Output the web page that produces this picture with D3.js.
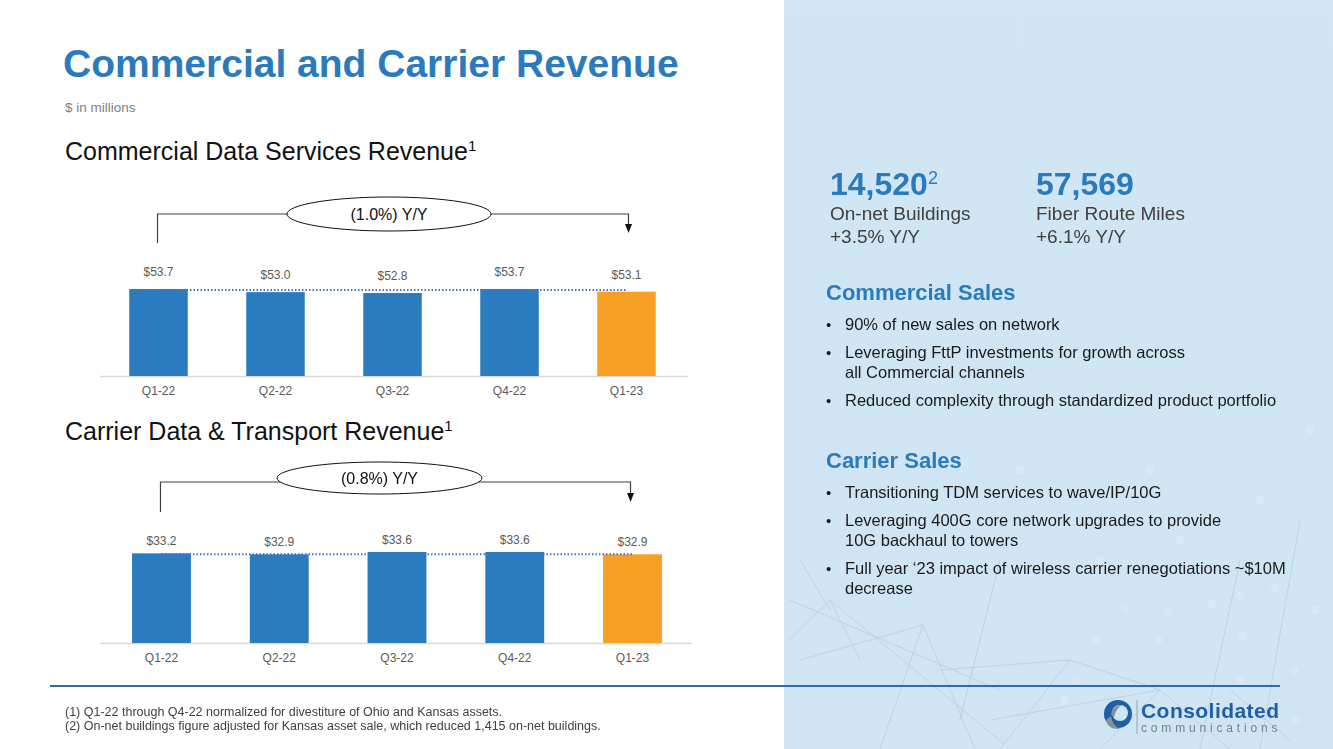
<!DOCTYPE html>
<html>
<head>
<meta charset="utf-8">
<script src="https://cdn.jsdelivr.net/npm/d3@7/dist/d3.min.js"></script>
<style>
  html, body { margin: 0; padding: 0; background: #fff; }
  svg { display: block; font-family: "Liberation Sans", Arial, sans-serif; }
</style>
</head>
<body>
<svg id="chart" width="1333" height="749"></svg>
<script>
// ---------- DATA ----------
const categories = ["Q1-22", "Q2-22", "Q3-22", "Q4-22", "Q1-23"];
const commercialValues = [53.7, 53.0, 52.8, 53.7, 53.1];
const carrierValues = [33.2, 32.9, 33.6, 33.6, 32.9];
const commercialChange = "(1.0%) Y/Y";
const carrierChange = "(0.8%) Y/Y";
const commercialAxisMin = 34.2;
const carrierAxisMin = 6;

// ---------- SETUP ----------
const svg = d3.select("#chart");
const W = 1333, H = 749;
const BLUE = "#2B7BBF", ORANGE = "#F7A025", GRAY = "#595959";

// right panel background
const defs = svg.append("defs");
const grad = defs.append("linearGradient").attr("id", "bg").attr("x1", 0).attr("y1", 0).attr("x2", 0).attr("y2", 1);
grad.append("stop").attr("offset", "0%").attr("stop-color", "#D0E6F4");
grad.append("stop").attr("offset", "100%").attr("stop-color", "#CFE5F3");
svg.append("rect").attr("x", 784).attr("y", 0).attr("width", W - 784).attr("height", H).attr("fill", "url(#bg)");

// faint network decoration
const deco = svg.append("g").attr("opacity", 0.45);
const decoLines = [
  [[790, 640], [830, 600]], [[790, 600], [1000, 690]], [[830, 600], [860, 660]], [[800, 660], [923, 625]],
  [[923, 625], [975, 749]], [[923, 625], [880, 749]], [[940, 670], [1070, 660]], [[1070, 660], [1000, 749]],
  [[1070, 660], [1160, 690]], [[990, 720], [1160, 690]], [[1160, 690], [1230, 749]], [[1160, 690], [1100, 749]],
  [[800, 560], [830, 610]], [[1230, 690], [1290, 740]], [[1000, 560], [960, 720]], [[830, 600], [1005, 745]],
  [[1240, 560], [1200, 749]], [[1300, 520], [1260, 749]]
];
deco.selectAll("line").data(decoLines).join("line")
  .attr("x1", d => d[0][0]).attr("y1", d => d[0][1]).attr("x2", d => d[1][0]).attr("y2", d => d[1][1])
  .attr("stroke", "#9FB3C8").attr("stroke-width", 0.8);
const decoDots = [[1125, 608], [1168, 612], [1212, 604], [1240, 596], [1275, 588], [1097, 640], [1158, 640],
  [1242, 635], [1295, 670], [1240, 680], [1075, 680], [1065, 700], [1295, 720], [1315, 610], [1100, 560],
  [1180, 540], [1050, 520], [1260, 500], [850, 400], [1310, 430], [1020, 470], [1150, 470]];
deco.selectAll("circle").data(decoDots).join("circle")
  .attr("cx", d => d[0]).attr("cy", d => d[1]).attr("r", 4.5).attr("fill", "#E6F1F9").attr("opacity", 0.8);

// ---------- TITLES ----------
svg.append("text").attr("x", 63).attr("y", 77).attr("fill", "#2A7BBE")
  .attr("font-size", 39).attr("font-weight", "bold").text("Commercial and Carrier Revenue");
svg.append("text").attr("x", 65).attr("y", 111.5).attr("fill", "#7F7F7F").attr("font-size", 13.5).text("$ in millions");

function sectionTitle(y, txt) {
  const t = svg.append("text").attr("x", 65).attr("y", y).attr("fill", "#111").attr("font-size", 25);
  t.append("tspan").text(txt);
  t.append("tspan").attr("font-size", 15).attr("dy", -9).text("1");
}
sectionTitle(160, "Commercial Data Services Revenue");
sectionTitle(440, "Carrier Data & Transport Revenue");

// ---------- BAR CHART ----------
function barChart(cfg) {
  const g = svg.append("g");
  const x = d3.scaleBand().domain(categories).range(cfg.xRange).paddingInner(0.5).paddingOuter(0.25);
  const y = d3.scaleLinear().domain([cfg.axisMin, d3.max(cfg.values)]).range([cfg.base, cfg.topPx]);
  const data = categories.map((c, i) => ({ c, v: cfg.values[i], i }));

  // baseline
  g.append("line").attr("x1", cfg.lineX[0]).attr("x2", cfg.lineX[1])
    .attr("y1", cfg.base + 0.5).attr("y2", cfg.base + 0.5).attr("stroke", "#D9D9D9").attr("stroke-width", 1.5);

  g.selectAll("rect.bar").data(data).join("rect").attr("class", "bar")
    .attr("x", d => x(d.c)).attr("width", x.bandwidth())
    .attr("y", d => y(d.v)).attr("height", d => cfg.base - y(d.v))
    .attr("fill", d => d.i === categories.length - 1 ? ORANGE : BLUE);

  // dotted reference line at first value
  const x0 = x(categories[0]) + x.bandwidth() / 2;
  const x1 = x(categories[categories.length - 1]) + x.bandwidth() / 2;
  g.append("line").attr("x1", x0).attr("x2", x1)
    .attr("y1", y(cfg.values[0]) + 1).attr("y2", y(cfg.values[0]) + 1)
    .attr("stroke", "#4472C4").attr("stroke-width", 2).attr("stroke-dasharray", "1.5,2");

  // value labels
  g.selectAll("text.val").data(data).join("text").attr("class", "val")
    .attr("x", d => x(d.c) + x.bandwidth() / 2).attr("y", d => y(d.v) - cfg.labelGap)
    .attr("text-anchor", "middle").attr("fill", GRAY).attr("font-size", 12)
    .text(d => "$" + d.v.toFixed(1));

  // category axis
  const axis = d3.axisBottom(x).tickSize(0).tickPadding(10);
  const ag = g.append("g").attr("transform", `translate(0,${cfg.base})`).call(axis);
  ag.select(".domain").remove();
  ag.selectAll("text").attr("fill", GRAY).attr("font-size", 12)
    .attr("font-family", "'Liberation Sans', Arial, sans-serif");

  // bracket annotation
  const by = cfg.bracketY;
  const rx = x1 + cfg.arrowShift;
  g.append("path")
    .attr("d", `M${x0 - 1},${cfg.bracketLeftBottom} L${x0 - 1},${by} L${rx},${by} L${rx},${cfg.arrowEnd - 8}`)
    .attr("fill", "none").attr("stroke", "#404040").attr("stroke-width", 1.2);
  g.append("path")
    .attr("d", `M${rx - 3.5},${cfg.arrowEnd - 9} L${rx + 3.5},${cfg.arrowEnd - 9} L${rx},${cfg.arrowEnd} Z`)
    .attr("fill", "#111");
  g.append("ellipse").attr("cx", cfg.ell[0]).attr("cy", cfg.ell[1]).attr("rx", cfg.ell[2]).attr("ry", cfg.ell[3])
    .attr("fill", "#fff").attr("stroke", "#111").attr("stroke-width", 1);
  g.append("text").attr("x", cfg.ell[0]).attr("y", cfg.ell[1] + 5.5).attr("text-anchor", "middle")
    .attr("fill", "#111").attr("font-size", 16).text(cfg.label);
}

barChart({
  values: commercialValues, axisMin: commercialAxisMin, label: commercialChange,
  xRange: [100, 685], base: 376, topPx: 289, lineX: [100, 688], labelGap: 13, arrowShift: 2,
  bracketY: 214, bracketLeftBottom: 243, arrowEnd: 233, ell: [389, 214, 102, 17]
});
barChart({
  values: carrierValues, axisMin: carrierAxisMin, label: carrierChange,
  xRange: [102.6, 691.4], base: 643, topPx: 552, lineX: [100, 692], labelGap: 8, arrowShift: -2,
  bracketY: 482, bracketLeftBottom: 512, arrowEnd: 502, ell: [379.5, 478, 102.5, 16]
});

// ---------- RIGHT PANEL TEXT ----------
const kpi = [
  { x: 830, big: "14,520", sup: "2", l1: "On-net Buildings", l2: "+3.5% Y/Y" },
  { x: 1036, big: "57,569", sup: "", l1: "Fiber Route Miles", l2: "+6.1% Y/Y" }
];
kpi.forEach(k => {
  const t = svg.append("text").attr("x", k.x).attr("y", 195).attr("fill", "#2A7BBE")
    .attr("font-size", 32).attr("font-weight", "bold");
  t.append("tspan").text(k.big);
  if (k.sup) t.append("tspan").attr("font-size", 18).attr("font-weight", "normal").attr("dy", -11).text(k.sup);
  svg.append("text").attr("x", k.x).attr("y", 220).attr("fill", "#404040").attr("font-size", 19).text(k.l1);
  svg.append("text").attr("x", k.x).attr("y", 243).attr("fill", "#404040").attr("font-size", 19).text(k.l2);
});

function heading(y, txt) {
  svg.append("text").attr("x", 826).attr("y", y).attr("fill", "#2A7BBE")
    .attr("font-size", 22).attr("font-weight", "bold").text(txt);
}
function bullet(y, lines) {
  svg.append("text").attr("x", 826).attr("y", y).attr("fill", "#1a1a1a").attr("font-size", 15).text("•");
  lines.forEach((ln, i) => {
    svg.append("text").attr("x", 845).attr("y", y + i * 20).attr("fill", "#1a1a1a").attr("font-size", 16.5).text(ln);
  });
}
heading(300, "Commercial Sales");
bullet(330, ["90% of new sales on network"]);
bullet(358, ["Leveraging FttP investments for growth across", "all Commercial channels"]);
bullet(406, ["Reduced complexity through standardized product portfolio"]);
heading(468, "Carrier Sales");
bullet(498, ["Transitioning TDM services to wave/IP/10G"]);
bullet(526, ["Leveraging 400G core network upgrades to provide", "10G backhaul to towers"]);
bullet(574, ["Full year \u201823 impact of wireless carrier renegotiations ~$10M", "decrease"]);

// ---------- FOOTER ----------
svg.append("line").attr("x1", 50).attr("x2", 1280).attr("y1", 686).attr("y2", 686)
  .attr("stroke", "#2E6EA8").attr("stroke-width", 2);
svg.append("text").attr("x", 65).attr("y", 716).attr("fill", "#404040").attr("font-size", 12.5)
  .text("(1) Q1-22 through Q4-22 normalized for divestiture of Ohio and Kansas assets.");
svg.append("text").attr("x", 65).attr("y", 730).attr("fill", "#404040").attr("font-size", 12.5)
  .text("(2) On-net buildings figure adjusted for Kansas asset sale, which reduced 1,415 on-net buildings.");

// logo
const logo = svg.append("g");
logo.append("circle").attr("cx", 1118).attr("cy", 714).attr("r", 14).attr("fill", "#1F5FA8");
logo.append("circle").attr("cx", 1120).attr("cy", 713).attr("r", 8).attr("fill", "#CFE5F3");
logo.append("path").attr("d", "M1106,720 Q1108,730 1120,729 Q1112,725 1111,716 Z").attr("fill", "#8A8F95");
logo.append("path").attr("d", "M1111,714 Q1113,705 1122,705 Q1115,709 1114,718 Z").attr("fill", "#8A8F95");
logo.append("line").attr("x1", 1137).attr("x2", 1137).attr("y1", 700).attr("y2", 734).attr("stroke", "#9AA3AB");
logo.append("text").attr("x", 1141).attr("y", 718).attr("fill", "#1F5FA8").attr("font-size", 21)
  .attr("font-weight", "bold").attr("textLength", 138).text("Consolidated");
logo.append("text").attr("x", 1141).attr("y", 732).attr("fill", "#7A8088").attr("font-size", 12)
  .attr("textLength", 138).attr("letter-spacing", 1.5).text("communications");
</script>
</body>
</html>
